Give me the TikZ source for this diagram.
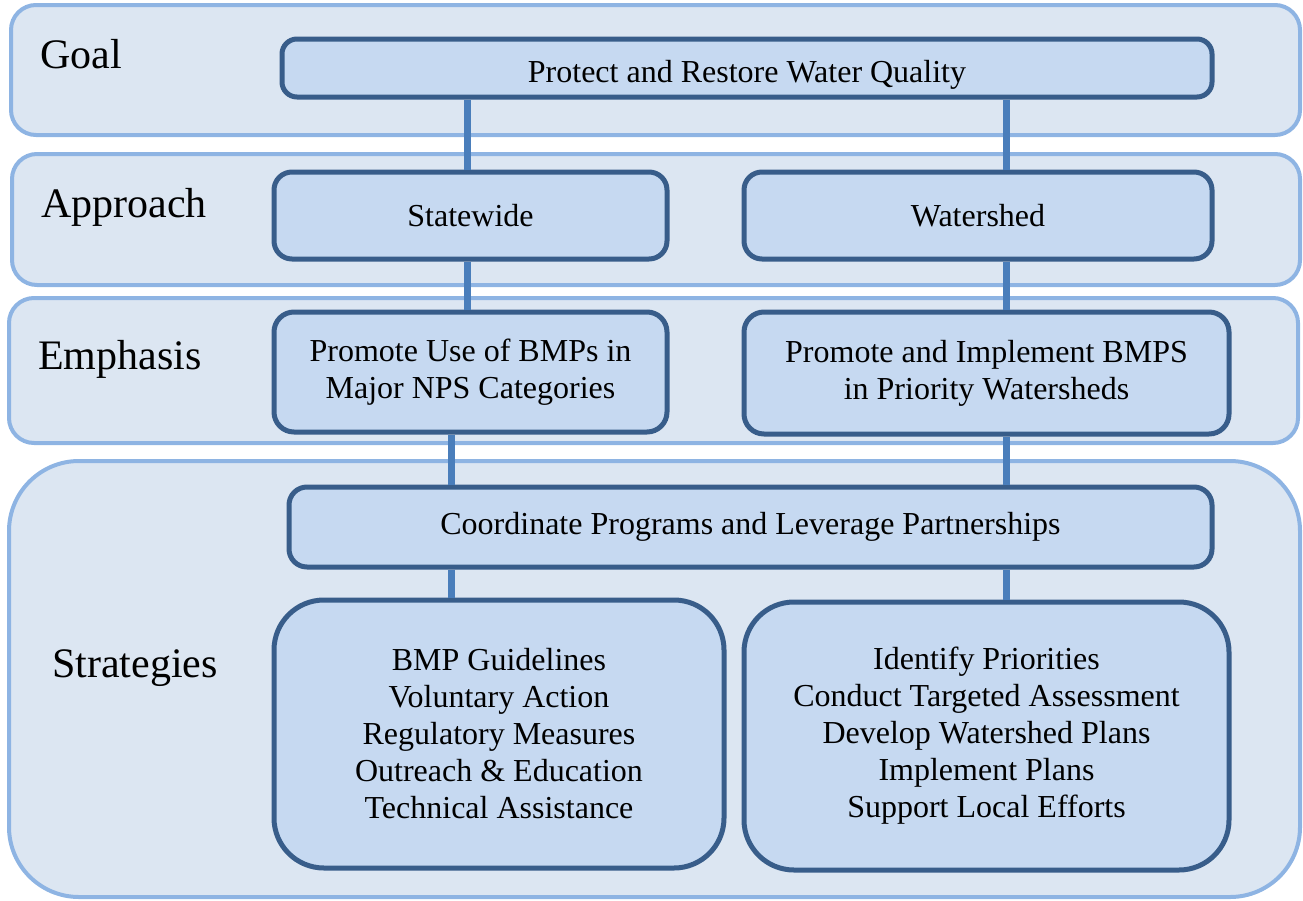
\documentclass[tikz,border=0pt]{standalone}
\usepackage{fontspec}
\setmainfont{Liberation Serif}
\usetikzlibrary{positioning}
\definecolor{bandfill}{HTML}{DCE6F2}
\definecolor{bandline}{HTML}{8EB4E3}
\definecolor{boxfill}{HTML}{C6D9F1}
\definecolor{boxline}{HTML}{385D8A}
\definecolor{linkline}{HTML}{4A7EBB}
\tikzset{
  band/.style={draw=bandline, fill=bandfill, line width=4pt,
    rounded corners=25pt},
  stage/.style={draw=boxline, fill=boxfill, line width=5pt,
    align=center, inner sep=0pt, font=\fontsize{32}{37}\selectfont},
  tier/.style={anchor=base west, inner sep=0pt,
    font=\fontsize{42}{48}\selectfont},
  link/.style={draw=linkline, line width=7pt}
}

\begin{document}
\begin{tikzpicture}[x=1pt, y=-1pt]
      \useasboundingbox (0,0) rectangle (1303,900);

      % background bands
      \node [band,
        minimum width=1289pt, minimum height=130pt
      ] (goalband) at (655.5,70) {};
      \node [band,
        minimum width=1288pt, minimum height=131pt
      ] (approachband) at (656,219.5) {};
      \node [band,
        minimum width=1289pt, minimum height=145pt
      ] (emphasisband) at (653.5,370.5) {};
      \node [band,
        rounded corners=70pt,
        minimum width=1291pt, minimum height=436pt
      ] (strategyband) at (654.5,679) {};

      % tier labels
      \node [tier] (goallbl) at (40,68) {Goal};
      \node [tier] (approachlbl) at (41,217) {Approach};
      \node [tier] (emphasislbl) at (38,369) {Emphasis};
      \node [tier] (strategylbl) at (52,677) {Strategies};

      % boxes
      \node [stage,
        rounded corners=15pt,
        text height=28pt, text depth=0pt,
        minimum width=930pt, minimum height=58pt
      ] (goal) at (747,68) {Protect and Restore Water Quality};
      \node [stage,
        rounded corners=18pt,
        minimum width=393pt, minimum height=87pt
      ] (statewide) at (470.5,215.5) {Statewide};
      \node [stage,
        rounded corners=18pt,
        minimum width=468pt, minimum height=87pt
      ] (watershed) at (978,215.5) {Watershed};
      \node [stage,
        rounded corners=20pt,
        minimum width=393pt, minimum height=120pt
      ] (usebmp) at (470.5,372) {Promote Use of BMPs in\\Major NPS Categories};
      \node [stage,
        rounded corners=20pt,
        minimum width=485pt, minimum height=122pt
      ] (prioritybmp) at (986.5,373) {Promote and Implement BMPS\\in Priority Watersheds};
      \node [stage,
        rounded corners=18pt,
        minimum width=923pt, minimum height=80pt
      ] (coordinate) at (750.5,527) {Coordinate Programs and Leverage Partnerships};
      \node [stage,
        rounded corners=50pt,
        minimum width=450pt, minimum height=268pt
      ] (statetools) at (499,734) {BMP Guidelines\\Voluntary Action\\Regulatory Measures\\Outreach \& Education\\Technical Assistance};
      \node [stage,
        rounded corners=50pt,
        minimum width=485pt, minimum height=268pt
      ] (shedtools) at (986.5,736) {Identify Priorities\\Conduct Targeted Assessment\\Develop Watershed Plans\\Implement Plans\\Support Local Efforts};

      % link columns
      \coordinate (upleft) at (467,0);
      \coordinate (lowleft) at (451,0);
      \coordinate (right) at (1006,0);

      \draw[link] (goal.south -| upleft) -- (statewide.north -| upleft);
      \draw[link] (goal.south -| right) -- (watershed.north -| right);
      \draw[link] (statewide.south -| upleft) -- (usebmp.north -| upleft);
      \draw[link] (watershed.south -| right) -- (prioritybmp.north -| right);
      \draw[link] (usebmp.south -| lowleft) -- (coordinate.north -| lowleft);
      \draw[link] (prioritybmp.south -| right) -- (coordinate.north -| right);
      \draw[link] (coordinate.south -| lowleft) -- (statetools.north -| lowleft);
      \draw[link] (coordinate.south -| right) -- (shedtools.north -| right);
    \end{tikzpicture}
\end{document}
